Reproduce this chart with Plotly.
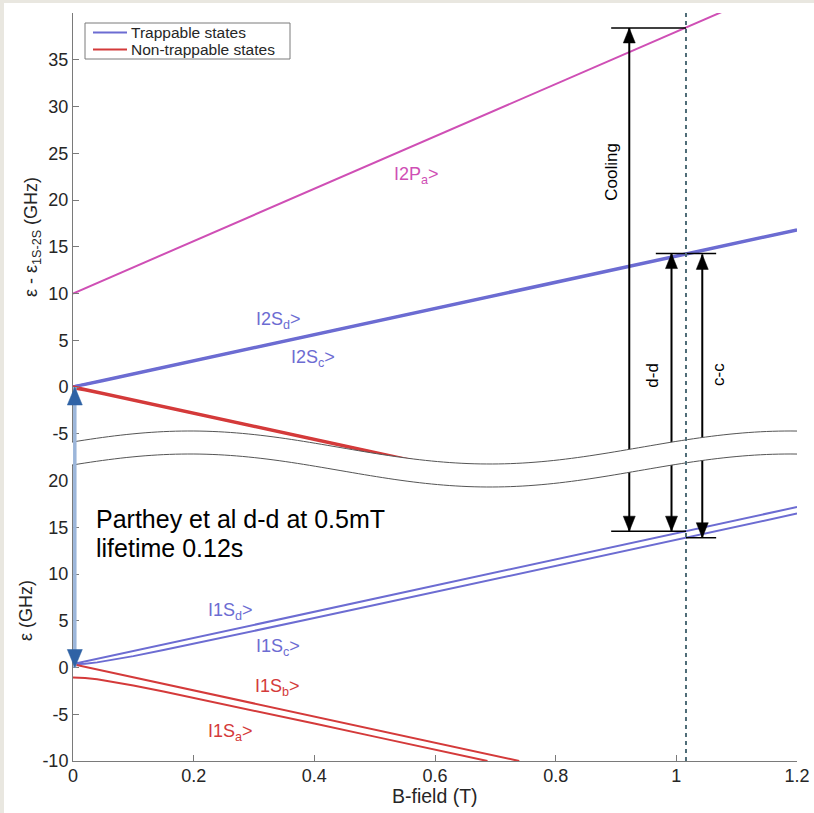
import plotly.graph_objects as go
import numpy as np

# ---------------- data ----------------
B_1S = [0, 0.02, 0.04, 0.06, 0.08, 0.1, 0.15, 0.2, 0.3, 0.4, 0.5, 0.6, 0.7, 0.8, 0.9, 1.0, 1.1, 1.2]
E_1S_d = [0.36, 0.64, 0.92, 1.20, 1.48, 1.76, 2.46, 3.16, 4.56, 5.96, 7.36, 8.76, 10.16, 11.56, 12.96, 14.36, 15.76, 17.16]
E_1S_c = [0.355, 0.408, 0.549, 0.745, 0.971, 1.215, 1.862, 2.534, 3.905, 5.290, 6.681, 8.075, 9.471, 10.867, 12.265, 13.663, 15.061, 16.460]
B_1S_b = [0, 0.02, 0.04, 0.06, 0.08, 0.1, 0.15, 0.2, 0.3, 0.4, 0.5, 0.6, 0.7, 0.7396]
E_1S_b = [0.355, 0.075, -0.205, -0.485, -0.765, -1.045, -1.745, -2.445, -3.845, -5.245, -6.645, -8.045, -9.445, -10.0]
B_1S_a = [0, 0.02, 0.04, 0.06, 0.08, 0.1, 0.15, 0.2, 0.3, 0.4, 0.5, 0.6, 0.687]
E_1S_a = [-1.065, -1.118, -1.259, -1.455, -1.681, -1.925, -2.572, -3.244, -4.615, -6.000, -7.391, -8.785, -10.0]

B_2S = [0, 0.02, 0.05, 0.1, 0.2, 0.3, 0.4, 0.5, 0.6, 0.7, 0.8, 0.9, 1.0, 1.1, 1.2]
E_2S_d = [0.044, 0.324, 0.744, 1.444, 2.844, 4.244, 5.644, 7.044, 8.444, 9.844, 11.244, 12.644, 14.044, 15.444, 16.844]
E_2S_c = [0.044, 0.250, 0.661, 1.359, 2.757, 4.157, 5.556, 6.956, 8.356, 9.756, 11.156, 12.556, 13.956, 15.356, 16.756]
B_2S_ab = [0, 0.02, 0.05, 0.1, 0.2, 0.3, 0.4, 0.5, 0.6, 0.62]
E_2S_b = [0.044, -0.236, -0.656, -1.356, -2.756, -4.156, -5.556, -6.956, -8.356, -8.636]
E_2S_a = [-0.133, -0.338, -0.750, -1.447, -2.845, -4.245, -5.645, -7.045, -8.445, -8.725]

B_2P = [0, 0.2, 0.4, 0.6, 0.8, 1.0, 1.2]
E_2P_a = [10.0, 15.6, 21.2, 26.8, 32.4, 38.0, 43.6]

# transition markers
B_mark = 1.016
E_2P_mark, E_2S_d_mark, E_2S_c_mark = 38.4, 14.27, 14.18
E_1S_d_mark, E_1S_c_mark = 14.58, 13.88
B_cool, B_dd, B_cc = 0.922, 0.992, 1.043
B_1s2s = 0.003

legend_names = ["Trappable states", "Non-trappable states"]

x_ticks = [0, 0.2, 0.4, 0.6, 0.8, 1.0, 1.2]
x_ticktext = ["0", "0.2", "0.4", "0.6", "0.8", "1", "1.2"]
up_ticks = [-5, 0, 5, 10, 15, 20, 25, 30, 35]
up_ticktext = ["-5", "0", "5", "10", "15", "20", "25", "30", "35"]
low_ticks = [-10, -5, 0, 5, 10, 15, 20]
low_ticktext = ["-10", "-5", "0", "5", "10", "15", "20"]

# ---------------- geometry ----------------
W, H = 814, 813
ML, MR, MT, MB = 73, 17, 13, 52
PW, PH = W - ML - MR, H - MT - MB
UP_DOM, UP_RNG = [0.35, 1.0], [-12.0, 40.0]
LO_DOM, LO_RNG = [0.0, 0.45], [-10.0, 26.0]
X_RNG = [0, 1.2]

def py_up(v):
    return UP_DOM[0] + (v - UP_RNG[0]) / (UP_RNG[1] - UP_RNG[0]) * (UP_DOM[1] - UP_DOM[0])

def py_lo(v):
    return LO_DOM[0] + (v - LO_RNG[0]) / (LO_RNG[1] - LO_RNG[0]) * (LO_DOM[1] - LO_DOM[0])

def px(b):
    return (b - X_RNG[0]) / (X_RNG[1] - X_RNG[0])

def pix_x(p):  # pixel -> paper
    return (p - ML) / PW

def pix_y(p):
    return (H - MB - p) / PH

BLUE = "#6c6cd2"
RED = "#d43a3a"
MAG = "#cf4fb5"
FONT = "Liberation Sans, Arial, Helvetica, sans-serif"
TXT = "#262626"

fig = go.Figure()

def add(x, y, color, width, yaxis, name=None):
    fig.add_trace(go.Scatter(x=x, y=y, mode="lines", line=dict(color=color, width=width),
                             xaxis="x", yaxis=yaxis, name=name, showlegend=False,
                             hoverinfo="skip"))

add(B_1S, E_1S_d, BLUE, 2, "y", legend_names[0])
add(B_1S, E_1S_c, BLUE, 2, "y", legend_names[0])
add(B_1S_b, E_1S_b, RED, 2, "y", legend_names[1])
add(B_1S_a, E_1S_a, RED, 2, "y", legend_names[1])
add(B_2S, E_2S_d, BLUE, 2.7, "y2", legend_names[0])
add(B_2S, E_2S_c, BLUE, 2.7, "y2", legend_names[0])
add(B_2S_ab, E_2S_b, RED, 2.7, "y2", legend_names[1])
add(B_2S_ab, E_2S_a, RED, 2.7, "y2", legend_names[1])
add(B_2P, E_2P_a, MAG, 2, "y2")

shapes = []

def head(xp, yp, up, color="black", w=6, h=15):
    if up:
        path = f"M0,0 L{-w},{-h} L{w},{-h} Z"
    else:
        path = f"M0,0 L{-w},{h} L{w},{h} Z"
    return dict(type="path", xref="paper", yref="paper", xsizemode="pixel", ysizemode="pixel",
                xanchor=xp, yanchor=yp, path=path, fillcolor=color,
                line=dict(color=color, width=0.5), layer="above")

def seg(x0, y0, x1, y1, color="black", width=2):
    return dict(type="line", xref="paper", yref="paper", x0=x0, y0=y0, x1=x1, y1=y1,
                line=dict(color=color, width=width), layer="above")

# horizontal level markers
shapes.append(seg(px(0.892), py_up(E_2P_mark), px(B_mark), py_up(E_2P_mark), width=1.5))
shapes.append(seg(px(0.966), py_up(E_2S_d_mark), px(1.066), py_up(E_2S_d_mark), width=1.5))
shapes.append(seg(px(0.892), py_lo(E_1S_d_mark), px(B_mark), py_lo(E_1S_d_mark), width=1.5))
shapes.append(seg(px(B_mark), py_lo(E_1S_c_mark), px(1.066), py_lo(E_1S_c_mark), width=1.5))

# double-headed transition arrows
for bx, top, bot in [(B_cool, py_up(E_2P_mark), py_lo(E_1S_d_mark)),
                     (B_dd, py_up(E_2S_d_mark), py_lo(E_1S_d_mark)),
                     (B_cc, py_up(E_2S_c_mark), py_lo(E_1S_c_mark))]:
    shapes.append(seg(px(bx), bot, px(bx), top, width=2))
    shapes.append(head(px(bx), top, True))
    shapes.append(head(px(bx), bot, False))

# axis break band (decoration)
xs = np.linspace(ML - 1, ML + PW, 120)
top = 447.5 - 16.5 * np.cos(np.pi * (xs - 190) / 300)
bot = top + 23
pts_top = [(pix_x(a), pix_y(b)) for a, b in zip(xs, top)]
pts_bot = [(pix_x(a), pix_y(b)) for a, b in zip(xs, bot)]
fill_path = "M" + " L".join(f"{a:.5f},{b:.5f}" for a, b in pts_top + pts_bot[::-1]) + " Z"
shapes.append(dict(type="path", xref="paper", yref="paper", path=fill_path,
                   fillcolor="white", line=dict(width=0), layer="above"))
for pts in (pts_top, pts_bot):
    shapes.append(dict(type="path", xref="paper", yref="paper",
                       path="M" + " L".join(f"{a:.5f},{b:.5f}" for a, b in pts),
                       line=dict(color="#555555", width=1), layer="above"))

# dotted marker line
shapes.append(dict(type="line", xref="x", yref="paper", x0=B_mark, x1=B_mark, y0=0, y1=1,
                   line=dict(color="#4f6d78", width=2, dash="4px,4px"), layer="above"))

# 1S-2S excitation arrow (blue)
shapes.append(seg(px(B_1s2s), py_lo(0), px(B_1s2s), py_up(0), color="#9cb6da", width=3.5))
shapes.append(head(px(B_1s2s), py_up(0), True, color="#2f62a5", w=7.5, h=18))
shapes.append(head(px(B_1s2s), py_lo(0), False, color="#2f62a5", w=7.5, h=18))

# legend box
LEG_Y1, LEG_Y2 = 32.5, 49.5
shapes.append(dict(type="rect", xref="paper", yref="paper", x0=pix_x(85), x1=pix_x(290),
                   y0=pix_y(59), y1=pix_y(23), fillcolor="white",
                   line=dict(color="#7a7a7a", width=1), layer="above"))
shapes.append(seg(pix_x(93), pix_y(LEG_Y1), pix_x(127), pix_y(LEG_Y1), color=BLUE, width=2))
shapes.append(seg(pix_x(93), pix_y(LEG_Y2), pix_x(127), pix_y(LEG_Y2), color=RED, width=2))

# page border strips
BEIGE = "#e9e7e0"
shapes.append(dict(type="rect", xref="paper", yref="paper", x0=pix_x(0), x1=pix_x(W),
                   y0=pix_y(3), y1=pix_y(0), fillcolor=BEIGE, line=dict(width=0), layer="above"))
shapes.append(dict(type="rect", xref="paper", yref="paper", x0=pix_x(0), x1=pix_x(4),
                   y0=pix_y(H), y1=pix_y(0), fillcolor=BEIGE, line=dict(width=0), layer="above"))

ann = []

def label(text, x, y, yref, color, size=17, xanchor="left", angle=0, xref="x"):
    ann.append(dict(text=text, x=x, y=y, xref=xref, yref=yref, showarrow=False,
                    xanchor=xanchor, yanchor="middle", textangle=angle, borderpad=0,
                    font=dict(family=FONT, size=size, color=color)))

label(legend_names[0], pix_x(130), pix_y(LEG_Y1), "paper", TXT, size=15.5, xref="paper")
label(legend_names[1], pix_x(130), pix_y(LEG_Y2), "paper", TXT, size=15.5, xref="paper")

label("I2P<sub>a</sub>&gt;", 0.530, 22.6, "y2", MAG, size=18)
label("I2S<sub>d</sub>&gt;", 0.302, 7.1, "y2", BLUE, size=18)
label("I2S<sub>c</sub>&gt;", 0.360, 3.0, "y2", BLUE, size=18)
label("I1S<sub>d</sub>&gt;", 0.222, 6.0, "y", BLUE, size=18)
label("I1S<sub>c</sub>&gt;", 0.302, 2.1, "y", BLUE, size=18)
label("I1S<sub>b</sub>&gt;", 0.300, -2.1, "y", RED, size=18)
label("I1S<sub>a</sub>&gt;", 0.222, -6.9, "y", RED, size=18)
label("Cooling", 0.893, 23.0, "y2", "black", xanchor="center", angle=-90)
label("d-d", 0.961, 1.3, "y2", "black", xanchor="center", angle=-90)
label("c-c", 1.071, 1.3, "y2", "black", xanchor="center", angle=-90)

label("Parthey et al d-d at 0.5mT", pix_x(95), pix_y(519), "paper", "black", size=25, xref="paper")
label("lifetime 0.12s", pix_x(95), pix_y(548), "paper", "black", size=25, xref="paper")

label("ε - ε<sub>1S-2S</sub> (GHz)", pix_x(33), pix_y(237), "paper", TXT, size=18,
      xanchor="center", angle=-90, xref="paper")
label("ε (GHz)", pix_x(26), pix_y(611), "paper", TXT, size=18,
      xanchor="center", angle=-90, xref="paper")
label("B-field (T)", 0.5, pix_y(796), "paper", TXT, size=19.5, xanchor="center", xref="paper")

axis_common = dict(showline=True, linecolor="#7a7a7a", linewidth=1, ticks="inside",
                   ticklen=6, tickcolor="#7a7a7a", showgrid=False, zeroline=False,
                   automargin=False,
                   tickfont=dict(family=FONT, size=18, color=TXT))

fig.update_layout(
    width=W, height=H,
    margin=dict(l=ML, r=MR, t=MT, b=MB, pad=0, autoexpand=False),
    paper_bgcolor="white", plot_bgcolor="white",
    xaxis=dict(range=X_RNG, tickvals=x_ticks, ticktext=x_ticktext, anchor="y",
               ticklabelstandoff=-2, **axis_common),
    yaxis=dict(domain=LO_DOM, range=LO_RNG, tickvals=low_ticks, ticktext=low_ticktext,
               anchor="x", **axis_common),
    yaxis2=dict(domain=UP_DOM, range=UP_RNG, tickvals=up_ticks, ticktext=up_ticktext,
                anchor="x", **axis_common),
    shapes=shapes, annotations=ann, showlegend=False,
)

fig.write_html("out.html")
